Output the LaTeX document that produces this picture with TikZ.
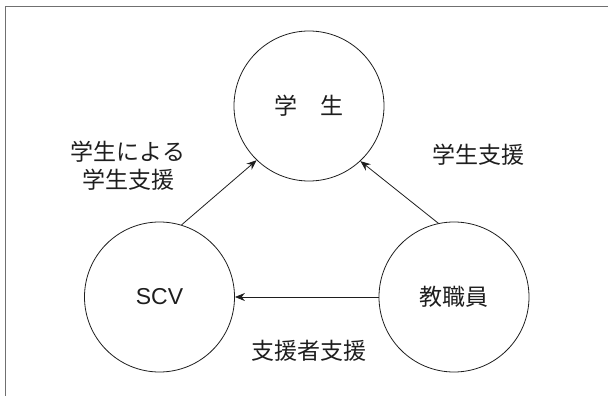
\documentclass[tikz,border=0pt]{standalone}
\usepackage{fontspec}
\setmainfont{Noto Sans CJK JP}
\newfontfamily\latfont{Liberation Sans}
\usetikzlibrary{arrows.meta}
\definecolor{ink}{HTML}{1E1E1E}
\definecolor{framegray}{HTML}{707070}
\tikzset{
  party/.style={circle, draw=ink, line width=0.8pt, minimum size=150pt, inner sep=0pt, text=ink, font=\fontsize{23}{27}\selectfont},
  lbl/.style={text=ink, font=\fontsize{23}{28}\selectfont, align=center, inner sep=0pt},
  arr/.style={draw=ink, line width=0.8pt, -{Stealth[length=10pt,width=8pt]}},
  frameline/.style={draw=framegray, line width=1.5pt}
}
\begin{document}
\begin{tikzpicture}[x=1pt,y=-1pt]
\useasboundingbox (0,0) rectangle (608,396);
\draw[frameline] (5.5,396) -- (5.5,6.7) -- (608,6.7);
\node[party] (stu) at (309,106) {学　生};
\node[party] (scv) at (159.5,297) {\latfont SCV};
\node[party] (staff) at (454,297) {教職員};
\draw[arr] (scv.73) -- (stu.226.5);
\draw[arr] (staff.102) -- (stu.313.8);
\draw[arr] (staff.west) -- (scv.east);
\node[lbl] (l1) at (128,166) {学生による\\学生支援};
\node[lbl] (l2) at (478,155) {学生支援};
\node[lbl] (l3) at (309,351) {支援者支援};
\end{tikzpicture}
\end{document}
